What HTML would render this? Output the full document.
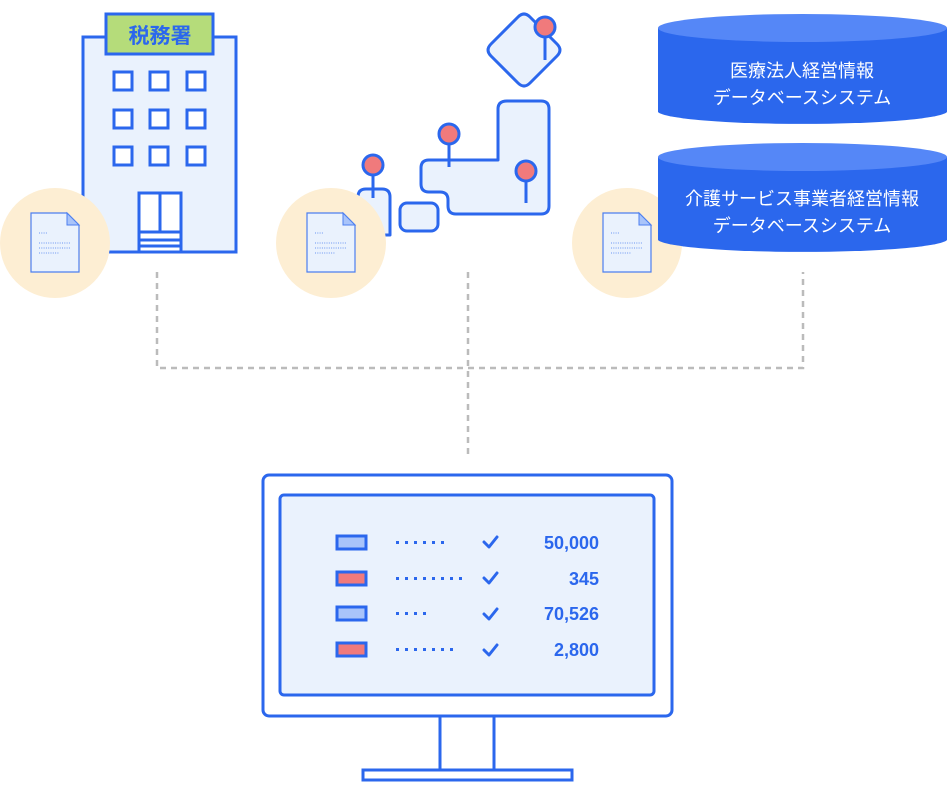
<!DOCTYPE html>
<html><head><meta charset="utf-8"><style>html,body{margin:0;padding:0;background:#fff}svg{display:block}</style></head><body>
<svg width="949" height="792" viewBox="0 0 949 792" xmlns="http://www.w3.org/2000/svg" font-family="'Liberation Sans','Noto Sans CJK JP',sans-serif">
<g stroke="#bbb" stroke-width="2.5" stroke-dasharray="6,5" fill="none">
<path d="M157 272V368H803V272"/><path d="M468 272V455"/>
</g>
<!-- building -->
<g stroke="#2b67ed" stroke-width="3">
<rect x="83" y="37" width="153" height="215" fill="#eaf2fd"/>
<rect x="106" y="14" width="107" height="40" fill="#b5dc7a"/>
<g fill="#fff">
<rect x="114" y="72" width="18" height="18"/><rect x="150" y="72" width="18" height="18"/><rect x="187" y="72" width="18" height="18"/>
<rect x="114" y="110" width="18" height="18"/><rect x="150" y="110" width="18" height="18"/><rect x="187" y="110" width="18" height="18"/>
<rect x="114" y="147" width="18" height="18"/><rect x="150" y="147" width="18" height="18"/><rect x="187" y="147" width="18" height="18"/>
<rect x="139" y="193" width="42" height="59"/>
</g>
<path d="M160 193V232M139 232H181M139 240H181M139 246H181" fill="none"/>
</g>
<text x="160" y="43" font-size="21" font-weight="bold" fill="#2b67ed" text-anchor="middle" font-family="'Noto Sans CJK JP',sans-serif">税務署</text>
<!-- map -->
<g stroke="#2b67ed" stroke-width="3" fill="#eaf2fd" stroke-linejoin="round">
<path d="M518 17Q524 11 530 17L557 44Q563 50 557 56L530 83Q524 89 518 83L491 56Q485 50 491 44Z"/>
<path d="M507 101H541Q549 101 549 109V206Q549 214 541 214H456Q448 214 448 206V200Q448 192 440 192H429Q421 192 421 184V168Q421 160 429 160H498V109Q498 101 507 101Z"/>
<rect x="400" y="203" width="38" height="28" rx="7"/>
<path d="M358 235V197Q358 189 366 189H382Q390 189 390 197V235Z"/>
</g>
<g stroke="#2b67ed" stroke-width="3">
<path d="M545 27V60M449 134V167M526 171V203M373 165V198"/>
<g fill="#f07a7c"><circle cx="545" cy="27" r="10"/><circle cx="449" cy="134" r="10"/><circle cx="526" cy="171" r="10"/><circle cx="373" cy="165" r="10"/></g>
</g>
<!-- circles with docs -->
<g>
<circle cx="55" cy="243" r="55" fill="#fdeed3"/>
<circle cx="331" cy="243" r="55" fill="#fdeed3"/>
<circle cx="627" cy="243" r="55" fill="#fdeed3"/>
</g>
<defs><g id="doc">
<path d="M0 0H36L48 12V59H0Z" fill="#eaf2fd" stroke="#4d7ff0" stroke-width="1.2"/>
<path d="M36 0V12H48Z" fill="#a9c4fa" stroke="#4d7ff0" stroke-width="1"/>
<g stroke="#6b96f2" stroke-width="1" stroke-dasharray="1,1.3"><path d="M8 20H17M8 30H40M8 35H40M8 40H28"/></g>
</g></defs>
<use href="#doc" x="31" y="213"/><use href="#doc" x="307" y="213"/><use href="#doc" x="603" y="213"/>
<!-- DBs -->
<g>
<path d="M658 28V112A145 13 0 0 0 947 112V28Z" fill="#2b67ed"/>
<ellipse cx="802.5" cy="28" rx="144.5" ry="14" fill="#5587f7"/>
<path d="M658 157V240A145 13 0 0 0 947 240V157Z" fill="#2b67ed"/>
<ellipse cx="802.5" cy="157" rx="144.5" ry="14" fill="#5587f7"/>
</g>
<g fill="#fff" font-size="18" text-anchor="middle">
<text x="802" y="77">医療法人経営情報</text><text x="802" y="104">データベースシステム</text>
<text x="802" y="205">介護サービス事業者経営情報</text><text x="802" y="232">データベースシステム</text>
</g>
<!-- monitor -->
<g stroke="#2b67ed" stroke-width="3">
<rect x="263" y="475" width="409" height="241" rx="6" fill="#fff"/>
<rect x="280" y="495" width="374" height="200" rx="4" fill="#eaf2fd"/>
<path d="M440 716V770M494 716V770" fill="none"/>
<rect x="363" y="770" width="209" height="10" fill="#fff"/>
<rect x="337" y="536" width="29" height="13" fill="#a9c4fa"/>
<rect x="337" y="572" width="29" height="13" fill="#f07a7c"/>
<rect x="337" y="607" width="29" height="13" fill="#a9c4fa"/>
<rect x="337" y="643" width="29" height="13" fill="#f07a7c"/>
<g fill="none" stroke-width="3" stroke-linecap="round" stroke-linejoin="round">
<path d="M484 542L489 547L497 537M484 578L489 583L497 573M484 614L489 619L497 609M484 650L489 655L497 645"/>
</g>
</g>
<g fill="#2b67ed">
<g id="d6"><rect x="396" y="541" width="3" height="3"/><rect x="405" y="541" width="3" height="3"/><rect x="414" y="541" width="3" height="3"/><rect x="423" y="541" width="3" height="3"/><rect x="432" y="541" width="3" height="3"/><rect x="441" y="541" width="3" height="3"/></g>
<use href="#d6" y="36"/><rect x="450" y="577" width="3" height="3"/><rect x="459" y="577" width="3" height="3"/>
<rect x="396" y="612" width="3" height="3"/><rect x="405" y="612" width="3" height="3"/><rect x="414" y="612" width="3" height="3"/><rect x="423" y="612" width="3" height="3"/>
<use href="#d6" y="107"/><rect x="450" y="648" width="3" height="3"/>
</g>
<g fill="#2b67ed" font-size="18" font-weight="bold" text-anchor="end">
<text x="599" y="549">50,000</text><text x="599" y="585">345</text><text x="599" y="620">70,526</text><text x="599" y="656">2,800</text>
</g>
</svg>
</body></html>
